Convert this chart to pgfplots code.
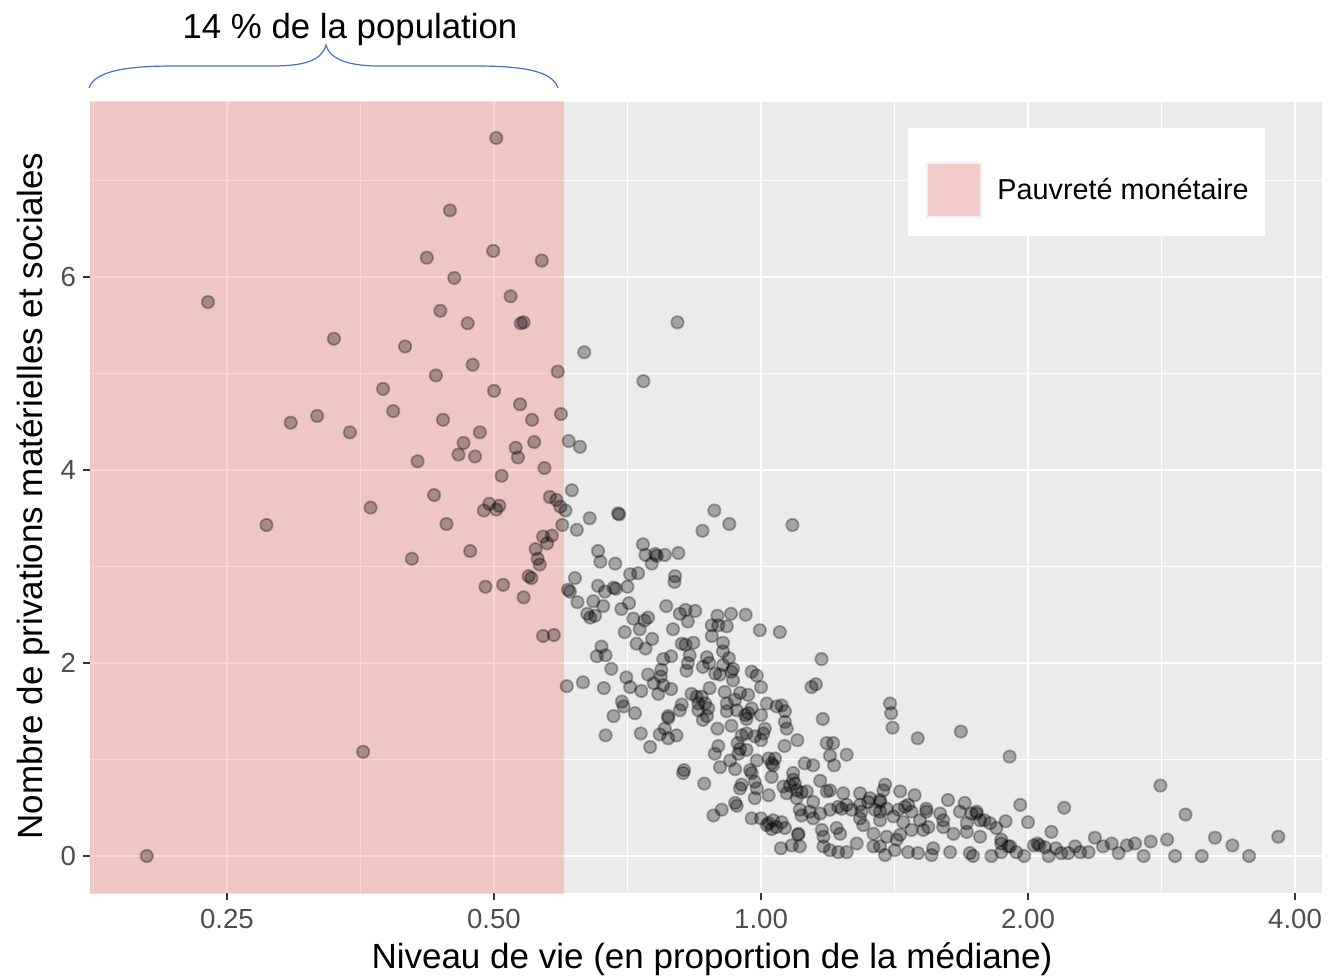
\documentclass[border=0pt]{standalone}
\usepackage{pgfplots}
\pgfplotsset{compat=1.18}
\usepackage{pgfplotstable}
\usepackage{fontspec}
\setmainfont{Liberation Sans}
\definecolor{panelgrey}{HTML}{EBEBEB}
\definecolor{grey20}{HTML}{333333}
\definecolor{grey30}{HTML}{4D4D4D}
\definecolor{pov}{HTML}{F8766D}
\definecolor{grey95}{HTML}{F2F2F2}
\definecolor{bracecol}{HTML}{4472C4}

\pgfplotstableread{
x y
0.503 7.44
0.446 6.69
0.420 6.20
0.499 6.27
0.566 6.17
0.451 5.99
0.238 5.74
0.522 5.80
0.435 5.65
0.467 5.52
0.536 5.52
0.540 5.53
0.330 5.36
0.397 5.28
0.473 5.09
0.430 4.98
0.590 5.02
0.375 4.84
0.500 4.82
0.385 4.61
0.535 4.68
0.438 4.52
0.552 4.52
0.595 4.58
0.295 4.49
0.316 4.56
0.344 4.39
0.482 4.39
0.462 4.28
0.529 4.23
0.555 4.29
0.456 4.16
0.476 4.14
0.532 4.13
0.410 4.09
0.570 4.02
0.510 3.94
0.428 3.74
0.363 3.61
0.277 3.43
0.494 3.65
0.487 3.58
0.507 3.63
0.503 3.59
0.442 3.44
0.578 3.72
0.588 3.69
0.594 3.62
0.597 3.43
0.568 3.31
0.581 3.32
0.574 3.24
0.557 3.18
0.560 3.08
0.563 3.02
0.470 3.16
0.404 3.08
0.547 2.90
0.551 2.88
0.489 2.79
0.512 2.81
0.540 2.68
0.568 2.28
0.584 2.29
0.356 1.08
0.203 0.00
}\poor

\pgfplotstableread{
x y
0.602 3.58
0.604 1.76
0.607 4.30
0.625 4.24
0.612 3.79
0.805 5.53
0.632 5.22
0.737 4.92
0.641 3.50
0.690 3.55
0.692 3.54
0.620 3.38
0.886 3.58
0.921 3.44
0.859 3.37
1.085 3.43
0.736 3.23
0.655 3.16
0.807 3.14
0.659 3.05
0.685 3.03
0.741 3.12
0.760 3.13
0.763 3.11
0.753 3.03
0.779 3.12
0.617 2.88
0.606 2.76
0.609 2.74
0.655 2.80
0.667 2.74
0.682 2.78
0.686 2.77
0.707 2.79
0.712 2.92
0.727 2.93
0.800 2.90
0.799 2.84
0.621 2.63
0.647 2.64
0.664 2.59
0.637 2.51
0.642 2.47
0.650 2.49
0.696 2.56
0.710 2.62
0.782 2.59
0.718 2.46
0.810 2.51
0.822 2.55
0.843 2.54
0.827 2.43
0.746 2.47
0.739 2.44
0.730 2.35
0.702 2.32
0.796 2.35
0.893 2.49
0.925 2.51
0.961 2.50
0.880 2.39
0.895 2.39
0.915 2.38
0.880 2.28
0.997 2.34
1.050 2.32
0.724 2.20
0.741 2.15
0.754 2.25
0.661 2.17
0.653 2.07
0.668 2.08
0.678 1.94
0.814 2.20
0.822 2.19
0.839 2.21
0.906 2.21
0.906 2.12
0.792 2.07
0.776 2.04
0.831 2.08
0.827 2.00
0.824 1.92
0.869 2.06
0.874 2.00
0.860 1.96
0.920 2.05
0.906 1.98
0.930 1.94
0.772 1.93
0.771 1.86
0.746 1.88
0.630 1.80
0.665 1.74
0.705 1.85
0.712 1.75
0.733 1.71
0.757 1.79
0.776 1.77
0.792 1.73
0.766 1.68
0.888 1.89
0.899 1.88
0.926 1.91
0.930 1.82
0.976 1.91
0.989 1.87
1.000 1.75
0.875 1.74
0.910 1.70
0.935 1.62
0.947 1.69
0.967 1.67
0.835 1.68
0.846 1.65
0.857 1.65
0.850 1.58
0.865 1.58
0.872 1.53
0.850 1.51
0.814 1.57
0.810 1.51
0.786 1.45
0.915 1.58
0.915 1.50
0.939 1.51
0.976 1.53
1.015 1.58
1.041 1.55
1.055 1.56
1.064 1.50
0.682 1.45
0.721 1.48
0.960 1.46
0.967 1.48
1.000 1.46
0.697 1.60
0.700 1.55
0.668 1.25
0.732 1.27
0.750 1.13
0.769 1.26
0.786 1.43
0.786 1.22
0.803 1.25
0.779 1.32
0.869 1.45
0.860 1.41
0.963 1.42
0.893 1.32
0.926 1.35
0.951 1.25
0.963 1.27
0.984 1.24
1.006 1.27
1.000 1.20
1.010 1.32
1.064 1.39
1.069 1.32
1.063 1.14
1.099 1.20
0.895 1.14
0.887 1.06
0.923 0.99
0.899 0.92
0.935 0.90
0.941 1.17
0.947 1.11
0.963 1.10
0.943 1.06
0.989 0.99
1.020 1.01
1.028 0.96
1.037 1.01
0.819 0.89
0.817 0.86
0.863 0.75
0.972 0.89
0.976 0.86
0.984 0.77
0.989 0.70
0.951 0.74
0.947 0.70
1.020 0.63
0.984 0.60
1.028 0.82
1.032 0.94
1.060 0.72
1.069 0.65
1.078 0.73
1.087 0.79
1.097 0.60
1.111 0.66
0.884 0.42
0.903 0.48
0.935 0.55
0.939 0.52
0.976 0.39
1.000 0.39
1.020 0.34
1.032 0.37
1.041 0.30
1.055 0.35
1.064 0.29
1.028 0.28
1.015 0.32
1.053 0.08
1.083 0.11
1.106 0.10
1.101 0.22
1.170 2.04
1.140 1.75
1.153 1.78
1.398 1.58
1.402 1.48
1.407 1.33
1.680 1.29
1.502 1.22
1.174 1.42
1.186 1.17
1.206 1.17
1.249 1.05
1.196 1.04
1.209 0.94
1.120 0.96
1.145 0.94
1.907 1.03
1.087 0.86
1.092 0.75
1.166 0.78
1.196 0.68
1.186 0.67
1.126 0.67
1.097 0.68
1.238 0.65
1.293 0.65
1.327 0.60
1.362 0.58
1.380 0.74
1.374 0.68
1.435 0.67
1.490 0.63
1.625 0.58
1.697 0.55
1.750 0.44
1.786 0.37
1.106 0.48
1.111 0.42
1.135 0.46
1.145 0.39
1.166 0.44
1.196 0.48
1.222 0.51
1.233 0.49
1.249 0.53
1.265 0.48
1.298 0.46
1.321 0.56
1.344 0.48
1.362 0.46
1.386 0.49
1.429 0.48
1.453 0.51
1.465 0.53
1.478 0.46
1.536 0.46
1.592 0.44
1.676 0.46
1.727 0.44
1.766 0.37
1.812 0.34
1.842 0.29
1.102 0.23
1.171 0.27
1.176 0.20
1.217 0.29
1.228 0.23
1.304 0.32
1.339 0.23
1.386 0.20
1.422 0.17
1.435 0.22
1.478 0.27
1.524 0.27
1.544 0.30
1.605 0.30
1.648 0.23
1.706 0.25
1.766 0.20
1.866 0.17
1.900 0.10
1.176 0.10
1.196 0.06
1.222 0.04
1.249 0.04
1.282 0.13
1.339 0.10
1.362 0.10
1.380 0.01
1.415 0.06
1.465 0.04
1.503 0.03
1.557 0.01
1.564 0.08
1.634 0.04
1.720 0.03
1.734 0.00
1.819 0.00
1.866 0.04
1.293 0.39
1.362 0.37
1.410 0.41
1.447 0.35
1.511 0.37
1.605 0.37
1.706 0.34
1.145 0.56
1.293 0.53
1.362 0.56
1.536 0.49
1.750 0.46
2.820 0.73
1.960 0.53
2.197 0.50
3.010 0.43
1.887 0.36
2.000 0.35
2.125 0.25
2.379 0.19
3.830 0.20
3.250 0.19
3.400 0.11
2.750 0.15
2.870 0.17
2.640 0.13
2.585 0.11
2.485 0.13
2.430 0.10
2.260 0.10
2.290 0.04
2.340 0.04
2.530 0.03
2.700 0.00
2.930 0.00
3.140 0.00
3.550 0.00
2.150 0.08
2.180 0.03
2.220 0.03
2.110 0.00
2.030 0.11
2.050 0.13
2.060 0.11
2.090 0.09
1.980 0.00
1.940 0.04
1.910 0.10
1.866 0.13
}\rich

\begin{document}
\begin{tikzpicture}
\useasboundingbox (0pt,0pt) rectangle (668pt,-489pt);
\begin{axis}[
  at={(45pt,-51pt)}, anchor=north west,
  scale only axis, width=616pt, height=395.5pt,
  xmode=log, log basis x=2,
  xmin=0.1752, xmax=4.29,
  ymin=-0.3834, ymax=7.813,
  xtick={0.25,0.5,1,2,4},
  xticklabels={0.25,0.50,1.00,2.00,4.00},
  ytick={0,2,4,6},
  minor ytick={1,3,5,7},
  extra x ticks={0.17678,0.35355,0.70711,1.41421,2.82843},
  extra x tick labels={},
  extra x tick style={major tick length=0pt, grid=major,
     major grid style={white, line width=0.55pt}},
  xmajorgrids, ymajorgrids, yminorgrids,
  major grid style={white, line width=1.1pt},
  minor grid style={white, line width=0.55pt},
  axis background/.style={fill=panelgrey},
  axis line style={draw=none},
  tick pos=left, tick align=outside,
  major tick length=3.5pt, minor tick length=0pt,
  major tick style={grey20, line width=1pt},
  tick label style={font=\fontsize{13.8}{16}\selectfont, text=grey30},
  xticklabel style={yshift=-1pt},
  /pgf/number format/assume math mode=true,
  legend style={at={(rel axis cs:0.6786,0.8888)}, anchor=west, draw=none, fill=none,
    inner sep=0pt, column sep=5.5pt, font=\fontsize{14.4}{16}\selectfont},
  legend cell align=left,
]
\addplot[only marks, mark=*, mark size=3.1pt,
  mark options={fill=black, fill opacity=0.3, draw=black, draw opacity=0.3, line width=0.9pt},
  forget plot] table[x=x,y=y] {\poor};
\addplot[only marks, mark=*, mark size=3.1pt,
  mark options={fill=black, fill opacity=0.3, draw=black, draw opacity=0.3, line width=0.9pt},
  forget plot] table[x=x,y=y] {\rich};
\addplot[draw=none, fill=pov, fill opacity=0.3,
  legend image code/.code={
    \fill[grey95, fill opacity=1] (0pt,-14pt) rectangle (28pt,14pt);
    \fill[pov, fill opacity=0.3] (1pt,-13pt) rectangle (27pt,13pt);}]
  coordinates {(0.1,-1) (0.6,-1) (0.6,9) (0.1,9)} -- cycle;
\addlegendentry{Pauvreté monétaire}
\fill[white] (rel axis cs:0.664,0.8306) rectangle (rel axis cs:0.9537,0.9671);
\end{axis}
\node[anchor=base, font=\fontsize{17.4}{20}\selectfont] at (175pt,-19.5pt) {14 \% de la population};
\node[anchor=base, font=\fontsize{17.5}{20}\selectfont] at (356pt,-484pt) {Niveau de vie (en proportion de la médiane)};
\node[anchor=base, rotate=90, font=\fontsize{17.5}{20}\selectfont] at (21pt,-248pt) {Nombre de privations matérielles et sociales};
\begin{scope}[x=0.5pt, y=-0.5pt]
\draw[bracecol, line width=0.6pt] (89,88) .. controls (95,70) and (130,66) .. (175,66) -- (273,66)
  .. controls (305,66) and (322,60) .. (326,45)
  .. controls (330,60) and (350,66) .. (380,66) -- (475,66)
  .. controls (520,66) and (552,70) .. (558,88);
\end{scope}
\end{tikzpicture}
\end{document}
